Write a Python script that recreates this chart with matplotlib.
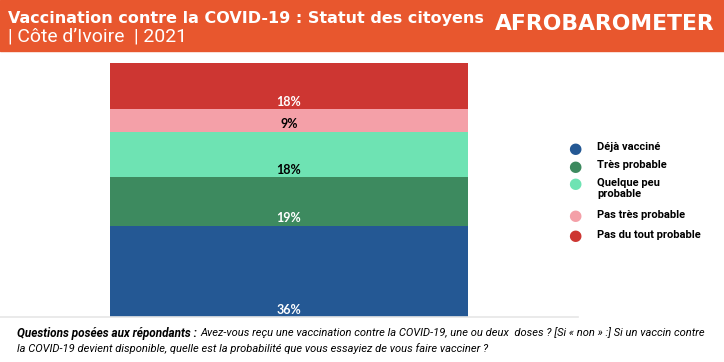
import matplotlib.pyplot as plt
from matplotlib.patches import Rectangle

# Data
categories = ["Déjà vacciné", "Très probable", "Quelque peu\nprobable",
              "Pas très probable", "Pas du tout probable"]
values = [36, 19, 18, 9, 18]
colors = ["#245894", "#3d8a5f", "#6ee3b3", "#f4a0a8", "#cd3632"]
label_colors = ["white", "white", "black", "black", "white"]

W, H = 724, 362
fig = plt.figure(figsize=(W / 100, H / 100), dpi=100)
fig.patch.set_facecolor("white")
renderer = fig.canvas.get_renderer()


def fit(t, width_px):
    # scale font size so the text spans the width seen in the reference
    w = t.get_window_extent(renderer).width
    t.set_fontsize(t.get_fontsize() * width_px / w)
    return t


# header band
fig.add_artist(Rectangle((0, 1 - 51 / H), 1, 51 / H, transform=fig.transFigure,
                         color="#e8572e", zorder=0))
fit(fig.text(8 / W, 1 - 19 / H, "Vaccination contre la COVID-19 : Statut des citoyens",
             color="white", fontsize=12, fontweight="bold", family="DejaVu Sans",
             va="center", ha="left"), 475)
fit(fig.text(8 / W, 1 - 37 / H, "| Côte d\u2019Ivoire  | 2021", color="white",
             fontsize=12, fontweight="normal", family="Roboto", va="center", ha="left"), 178)
fit(fig.text(605 / W, 1 - 24 / H, "AFROBAROMETER", color="white", fontsize=16,
             fontweight="bold", family="DejaVu Sans", va="center", ha="center"), 220)

# chart area
ax = fig.add_axes([0, (H - 317) / H, 578 / W, (317 - 63) / H])
ax.set_xlim(0, 1)
ax.set_ylim(0, sum(values))
bottom = 0
for v, c, lc in zip(values, colors, label_colors):
    ax.bar(0.5, v, width=0.618, bottom=bottom, color=c, edgecolor="none")
    ax.text(0.5, bottom + 2.8, f"{v}%", ha="center", va="center", color=lc,
            fontsize=9, fontweight="bold", family="Lato")
    bottom += v
for s in ["top", "right", "left"]:
    ax.spines[s].set_visible(False)
ax.spines["bottom"].set_color("#e6e6e6")
ax.spines["bottom"].set_linewidth(1.2)
ax.set_xticks([])
ax.set_yticks([])
ax.patch.set_alpha(0)

# legend
leg_y = [148, 166, 184, 216, 236]
for name, c, y in zip(categories, colors, leg_y):
    fig.text(575 / W, 1 - y / H, "\u25CF", color=c, fontsize=11,
             ha="center", va="center", family="DejaVu Sans")
    fig.text(597 / W, 1 - (y - 6) / H, name, color="black", fontsize=8,
             fontweight="semibold", family="Roboto", va="top", ha="left",
             linespacing=1.15)

# footer
q = fig.text(17 / W, 1 - 333 / H, "Questions posées aux répondants :", fontsize=7.5,
             fontweight="bold", style="italic", family="Roboto", va="center")
fit(q, 179)
x2 = q.get_window_extent(renderer).x1 + 4
r = fig.text(x2 / W, 1 - 333 / H,
             "Avez-vous reçu une vaccination contre la COVID-19, une ou deux  doses ? [Si « non » :] Si un vaccin contre",
             fontsize=7.5, style="italic", family="Roboto", va="center")
fit(r, 703 - x2)
fig.text(17 / W, 1 - 349 / H,
         "la COVID-19 devient disponible, quelle est la probabilité que vous essayiez de vous faire vacciner ?",
         fontsize=r.get_fontsize(), style="italic", family="Roboto", va="center")

fig.savefig("out.png", dpi=100)
